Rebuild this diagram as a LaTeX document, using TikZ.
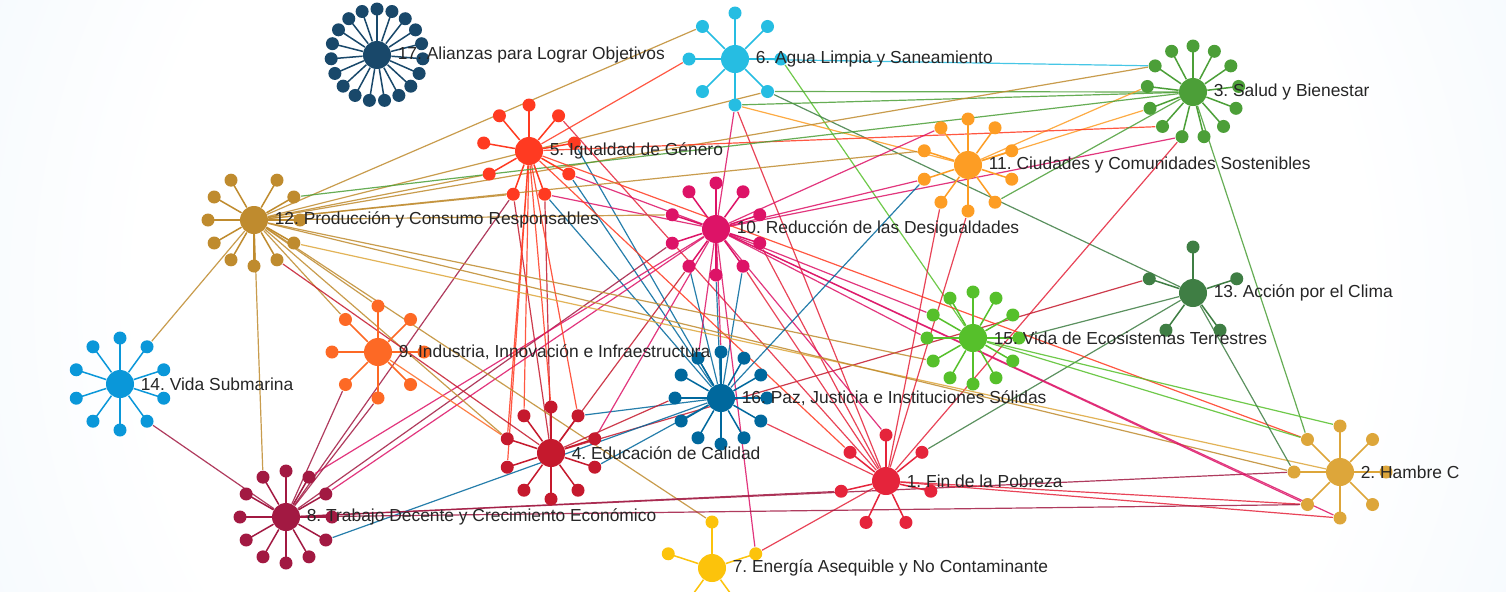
\documentclass[tikz,border=0pt]{standalone}
\usepackage{fontspec}
\setmainfont{Liberation Sans}
\frenchspacing
\usetikzlibrary{positioning}
\definecolor{c1}{HTML}{E5243B}
\definecolor{c2}{HTML}{DDA63A}
\definecolor{c3}{HTML}{4C9F38}
\definecolor{c4}{HTML}{C5192D}
\definecolor{c5}{HTML}{FF3A21}
\definecolor{c6}{HTML}{26BDE2}
\definecolor{c7}{HTML}{FCC30B}
\definecolor{c8}{HTML}{A21942}
\definecolor{c9}{HTML}{FD6925}
\definecolor{c10}{HTML}{DD1367}
\definecolor{c11}{HTML}{FD9D24}
\definecolor{c12}{HTML}{BF8B2E}
\definecolor{c13}{HTML}{3F7E44}
\definecolor{c14}{HTML}{0A97D9}
\definecolor{c15}{HTML}{56C02B}
\definecolor{c16}{HTML}{00689D}
\definecolor{c17}{HTML}{19486A}
\definecolor{bgblue}{HTML}{DDECFA}
\pgfdeclareradialshading{bgshade}{\pgfpoint{0bp}{0bp}}{color(0bp)=(white); color(18bp)=(white); color(42bp)=(bgblue); color(50bp)=(bgblue)}
\pgfdeclarelayer{bg}
\pgfdeclarelayer{links}
\pgfsetlayers{bg,links,main}
\tikzset{
hub/.style={
  circle,
  inner sep=0pt,
  minimum size=14pt,
  draw=none,
  }
}
\tikzset{
sat/.style={
  circle,
  inner sep=0pt,
  minimum size=6.5pt,
  draw=none,
  }
}
\tikzset{
spoke/.style={
  line width=0.75pt,
  }
}
\tikzset{
link/.style={
  line width=0.6pt,
  draw opacity=0.85,
  }
}
\tikzset{
goal/.style={
  inner sep=1pt,
  anchor=west,
  text=black!85,
  font=\fontsize{8.7}{10.4}\selectfont,
  }
}

\begin{document}
\begin{tikzpicture}[x=0.5pt,y=-0.5pt]
    \useasboundingbox (0,0) rectangle (1506,591);
    \begin{pgfonlayer}{bg}
    \begin{scope}
    \clip (0,0) rectangle (1506,591);
    \shade[shading=bgshade] (753,295) circle (850);
    \end{scope}
    \end{pgfonlayer}

    % hubs and their satellites
    \foreach \id/\x/\y/\n/\st/\sp in {
      1/886/481/7/-90/51.43, 2/1340/472/8/-90/45, 3/1193/92/13/-90/27.69,
      4/551/453/10/-90/36, 5/529/151/9/-90/40, 6/735/59/8/-90/45,
      7/712/568/5/-90/72, 8/286/517/12/-90/30, 9/378/352/8/-90/45,
      10/716/229/10/-90/36, 11/968/165/10/-90/36, 12/254/220/11/-60/30,
      13/1193/293/5/-90/72, 14/120/384/10/-90/36, 15/973/338/12/-90/30,
      16/721/398/12/-90/30, 17/377/55/19/-90/18.95}{
      \node[hub, fill=c\id] (h\id) at (\x,\y) {};
      \pgfmathtruncatemacro\last{\n-1}
      \foreach \k in {0,...,\last}{
        \pgfmathsetmacro\ang{\st+\k*\sp}
        \draw[spoke, draw=c\id] (h\id) -- ++(\ang:46) node[sat, fill=c\id] (s\id-\k) {};
      }
    }

    % goal names
    \foreach \id/\txt in {
      1/{Fin de la Pobreza}, 2/{Hambre C}, 3/{Salud y Bienestar},
      4/{Educación de Calidad}, 5/{Igualdad de Género},
      6/{Agua Limpia y Saneamiento},
      7/{Energía Asequible y No Contaminante},
      8/{Trabajo Decente y Crecimiento Económico},
      9/{Industria, Innovación e Infraestructura},
      10/{Reducción de las Desigualdades},
      11/{Ciudades y Comunidades Sostenibles},
      12/{Producción y Consumo Responsables},
      13/{Acción por el Clima}, 14/{Vida Submarina},
      15/{Vida de Ecosistemas Terrestres},
      16/{Paz, Justicia e Instituciones Sólidas},
      17/{Alianzas para Lograr Objetivos}}{
      \node[goal, right=2pt of h\id] (l\id) {\id. \txt};
    }

    % links: satellite of one goal to the hub of another
    \begin{pgfonlayer}{links}
    \foreach \a/\k/\b in {
      6/2/15, 6/3/3, 6/3/13, 6/3/12, 6/4/3, 6/4/11, 6/4/1, 6/4/10, 6/6/5, 6/7/12,
      3/11/6, 3/11/12, 3/10/11, 3/9/11, 3/8/5, 3/7/10, 3/7/1,
      13/4/4,
      5/1/1, 5/2/16, 5/3/16, 5/4/16, 5/3/10, 5/4/10, 5/4/4, 5/5/4, 5/5/12, 5/6/12, 5/5/8,
      10/4/16, 10/5/16, 10/6/16, 10/3/1, 10/4/1, 10/6/4, 10/7/8, 10/8/12,
      8/1/10, 8/2/10, 8/11/12, 8/4/16,
      9/0/12, 9/7/12, 9/4/8, 9/5/8,
      14/1/12, 14/4/8,
      4/7/5, 4/8/5, 4/9/5, 4/0/5, 4/1/5, 4/8/12, 4/8/9, 4/1/16, 4/3/16, 4/2/10,
      7/0/12, 7/1/10, 7/1/1,
      12/1/3, 12/3/2, 12/4/4,
      15/10/10, 15/9/10, 15/8/12, 15/3/13,
      16/0/10, 16/11/10, 16/9/4, 16/4/1,
      1/0/10, 1/6/5, 1/1/13, 1/5/8,
      2/7/3, 2/7/5, 2/0/15, 2/7/15, 2/6/12, 2/6/13, 2/6/8, 2/5/1, 2/5/10, 2/4/1, 2/4/10, 2/5/8,
      11/4/3, 11/5/1, 11/6/1, 11/7/16, 11/8/12, 11/9/10, 11/7/10}{
      \draw[link, draw=c\b] (s\a-\k) -- (h\b);
    }
    \end{pgfonlayer}
\end{tikzpicture}
\end{document}
